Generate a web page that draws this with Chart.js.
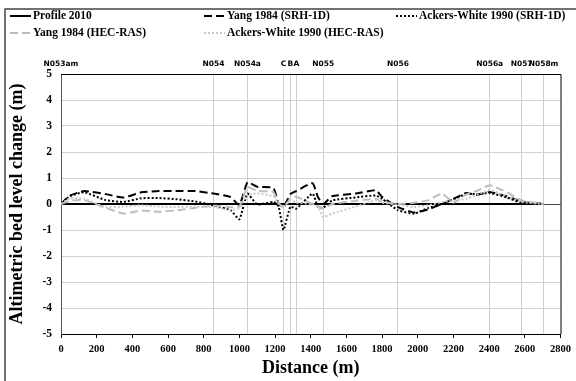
<!DOCTYPE html>
<html>
<head>
<meta charset="utf-8">
<script src="https://cdn.jsdelivr.net/npm/chart.js@4.4.1/dist/chart.umd.min.js"></script>
<style>
  html, body { margin: 0; padding: 0; background: #fff; }
  #wrap { position: relative; width: 576px; height: 381px; }
</style>
</head>
<body>
<div id="wrap"><canvas id="grafico" width="576" height="381"></canvas></div>
<script>
// Distâncias (m) comuns a todas as séries
const distancias = [0, 50, 130, 250, 350, 450, 550, 650, 750, 855, 950, 1000, 1045, 1100, 1190, 1220, 1247, 1286, 1319, 1410, 1440, 1470, 1520, 1650, 1765, 1800, 1889, 1980, 2060, 2137, 2200, 2270, 2330, 2403, 2500, 2582, 2705];

const perfil2010 = distancias.map(() => 0);
const yangSRH = [0, 0.32, 0.5, 0.38, 0.25, 0.45, 0.5, 0.5, 0.5, 0.4, 0.27, -0.05, 0.83, 0.66, 0.62, 0.0, -0.12, 0.38, 0.5, 0.8, 0.27, 0.0, 0.3, 0.4, 0.53, 0.27, -0.12, -0.33, -0.2, 0.0, 0.2, 0.42, 0.35, 0.46, 0.3, 0.08, 0];
const ackersSRH = [0, 0.3, 0.45, 0.15, 0.08, 0.22, 0.23, 0.18, 0.1, -0.05, -0.24, -0.59, 0.4, -0.02, 0.08, -0.1, -1.0, -0.1, -0.18, 0.4, -0.1, -0.15, 0.14, 0.25, 0.33, 0.2, -0.24, -0.37, -0.15, 0, 0.18, 0.38, 0.38, 0.42, 0.25, 0.04, 0];
const yangHEC = [0, 0.12, 0.15, -0.15, -0.37, -0.25, -0.3, -0.24, -0.15, -0.06, -0.12, -0.1, 0.65, 0.5, 0.46, 0.05, -0.12, 0.2, 0.28, 0.0, -0.08, -0.18, 0.0, 0.12, 0.2, 0.1, 0.0, 0.05, 0.15, 0.4, 0.05, 0.36, 0.5, 0.72, 0.45, 0.14, 0];
const ackersHEC = [0, 0.22, 0.2, -0.12, -0.1, -0.05, -0.1, -0.12, -0.1, -0.12, -0.24, -0.15, 0.35, 0.4, 0.3, 0.0, -0.12, 0.15, 0.05, 0.0, -0.1, -0.5, -0.37, -0.1, 0.14, 0.05, -0.02, -0.12, -0.05, 0.08, 0.12, 0.2, 0.35, 0.53, 0.3, 0.08, 0];

// Seções transversais (eixo superior)
const secoesDist = [0, 855, 1045, 1247, 1286, 1319, 1470, 1889, 2403, 2582, 2705];
const secoesNome = ["N053am", "N054", "N054a", "C", "B", "A", "N055", "N056", "N056a", "N057", "N058m"];

const SERIF = "'Liberation Serif', 'Times New Roman', serif";
const SANS = "'DejaVu Sans', Verdana, sans-serif";

function pontos(ys) {
  return distancias.map((d, i) => ({ x: d, y: ys[i] }));
}

const series = [
  { label: "Profile 2010", data: perfil2010, cor: "#000000", dash: [] },
  { label: "Yang 1984 (SRH-1D)", data: yangSRH, cor: "#000000", dash: [8, 4] },
  { label: "Ackers-White 1990 (SRH-1D)", data: ackersSRH, cor: "#000000", dash: [2, 2] },
  { label: "Yang 1984 (HEC-RAS)", data: yangHEC, cor: "#bdbdbd", dash: [8, 4] },
  { label: "Ackers-White 1990 (HEC-RAS)", data: ackersHEC, cor: "#c8c8c8", dash: [2, 2] }
];

// Legenda desenhada à mão, em duas linhas
const legendaPos = [
  { x: 10, y: 16 }, { x: 204, y: 16 }, { x: 396, y: 16 },
  { x: 10, y: 33 }, { x: 204, y: 33 }
];

const pluginExtras = {
  id: "extras",
  beforeDatasetsDraw(chart) {
    const { ctx, chartArea: a } = chart;
    ctx.save();
    ctx.strokeStyle = "#000";
    ctx.lineWidth = 1;
    ctx.beginPath();
    ctx.moveTo(a.left, a.top + 0.5);
    ctx.lineTo(a.right + 0.5, a.top + 0.5);
    ctx.lineTo(a.right + 0.5, a.bottom);
    ctx.stroke();
    ctx.restore();
  },
  afterDraw(chart) {
    const { ctx } = chart;
    ctx.save();
    // moldura externa (só esquerda e topo aparecem)
    ctx.strokeStyle = "#444";
    ctx.lineWidth = 1.5;
    ctx.beginPath();
    ctx.moveTo(5, 381);
    ctx.lineTo(5, 9);
    ctx.lineTo(576, 9);
    ctx.stroke();
    // legenda
    ctx.font = "bold 11.5px " + SERIF;
    ctx.textBaseline = "middle";
    series.forEach((s, i) => {
      const p = legendaPos[i];
      ctx.strokeStyle = s.cor;
      ctx.lineWidth = 2;
      ctx.setLineDash(s.dash);
      ctx.beginPath();
      ctx.moveTo(p.x, p.y);
      ctx.lineTo(p.x + 21, p.y);
      ctx.stroke();
      ctx.setLineDash([]);
      ctx.fillStyle = "#000";
      ctx.fillText(s.label, p.x + 23, p.y + 0.5);
    });
    ctx.restore();
  }
};

new Chart(document.getElementById("grafico"), {
  type: "line",
  data: {
    datasets: series.map(s => ({
      label: s.label,
      data: pontos(s.data),
      borderColor: s.cor,
      backgroundColor: s.cor,
      borderDash: s.dash,
      borderWidth: 2,
      pointRadius: 0,
      tension: 0.15,
      fill: false
    })).reverse()
  },
  options: {
    responsive: false,
    animation: false,
    layout: { padding: { left: 0, right: 14, top: 0, bottom: 0 } },
    plugins: { legend: { display: false }, tooltip: { enabled: false } },
    scales: {
      x: {
        type: "linear", min: 0, max: 2800,
        afterFit(axis) { axis.height = 47; },
        ticks: {
          stepSize: 200, color: "#000", maxRotation: 0, padding: 5,
          font: { family: SERIF, weight: "bold", size: 10.5 },
          callback: v => String(v)
        },
        grid: { drawOnChartArea: false, drawTicks: true, tickLength: 4, color: "#000" },
        border: { color: "#000" },
        title: { display: true, text: "Distance (m)", color: "#000", font: { family: SERIF, weight: "bold", size: 18 }, padding: { top: 0, bottom: 2 } }
      },
      secoes: {
        type: "linear", position: "top", min: 0, max: 2800,
        afterFit(axis) { axis.height = 74; },
        afterBuildTicks(axis) { axis.ticks = secoesDist.map(v => ({ value: v })); },
        ticks: {
          autoSkip: false, maxRotation: 0, padding: 5, color: "#000",
          font: { family: SANS, weight: "bold", size: 7.5 },
          callback: (v, i) => secoesNome[i]
        },
        grid: { color: "#cfcfcf", lineWidth: 1, drawTicks: false },
        border: { display: false }
      },
      y: {
        min: -5, max: 5,
        afterFit(axis) { axis.width = 61; },
        ticks: { stepSize: 1, color: "#000", font: { family: SERIF, weight: "bold", size: 11.5 }, padding: 9 },
        grid: { color: ctx => ctx.tick && ctx.tick.value === 0 ? "#444" : "#d0d0d0", drawTicks: false },
        border: { color: "#555" },
        title: { display: true, text: "Altimetric bed level change (m)", color: "#000", font: { family: SERIF, weight: "bold", size: 18 }, padding: { top: 7, bottom: 0 } }
      }
    }
  },
  plugins: [pluginExtras]
});
</script>
</body>
</html>
